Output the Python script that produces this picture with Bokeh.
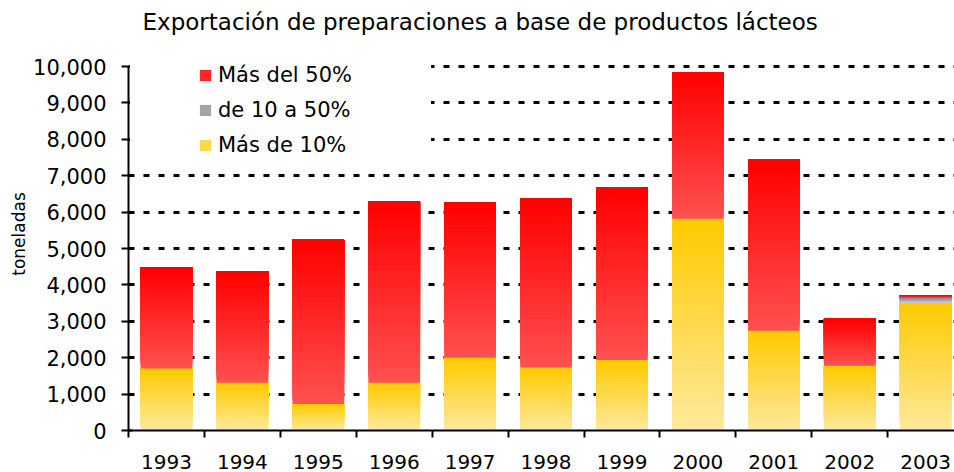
from bokeh.plotting import figure
from bokeh.models import (ColumnDataSource, FixedTicker, NumeralTickFormatter,
                          Legend, LegendItem, Range1d)
from bokeh.embed import file_html
from bokeh.resources import INLINE

# ---------------- data (toneladas) ----------------
years = ["1993", "1994", "1995", "1996", "1997", "1998",
         "1999", "2000", "2001", "2002", "2003"]
mas_de_10 = [1700, 1310, 730, 1310, 2000, 1730, 1940, 5820, 2740, 1775, 3510]
de_10_a_50 = [0, 0, 0, 0, 0, 0, 0, 0, 0, 20, 160]
mas_del_50 = [2780, 3060, 4510, 4990, 4260, 4640, 4730, 4010, 4700, 1275, 30]
y_ticks = [0, 1000, 2000, 3000, 4000, 5000, 6000, 7000, 8000, 9000, 10000]
series_names = ["Más del 50%", "de 10 a 50%", "Más de 10%"]

# ---------------- style ----------------
FONT = "DejaVu Sans"
RED = ("#FF0000", "#FF5050")      # top, bottom
GREY = ("#7A7A7A", "#CFCFCF")
YELLOW = ("#FFCA00", "#FFE99C")
N_SLICES = 48
BAR_W = 0.68


def _hex(c):
    c = c.lstrip("#")
    return [int(c[i:i + 2], 16) for i in (0, 2, 4)]


def lerp(c_bottom, c_top, t):
    a, b = _hex(c_bottom), _hex(c_top)
    return "#%02X%02X%02X" % tuple(round(a[k] + (b[k] - a[k]) * t) for k in range(3))


def gradient_source(xs, bottoms, heights, colors):
    """Split each stacked segment into stacked slices to fake a vertical gradient."""
    top_c, bot_c = colors
    out = {"x": [], "bottom": [], "top": [], "color": []}
    for x, b, h in zip(xs, bottoms, heights):
        if h <= 0:
            continue
        for i in range(N_SLICES):
            out["x"].append(x)
            out["bottom"].append(b + h * i / N_SLICES)
            out["top"].append(b + h)
            out["color"].append(lerp(bot_c, top_c, i / (N_SLICES - 1)))
    return ColumnDataSource(out)


xs = list(range(len(years)))
b_grey = list(mas_de_10)
b_red = [a + g for a, g in zip(mas_de_10, de_10_a_50)]

p = figure(width=954, height=472, output_backend="svg", toolbar_location=None,
           x_range=Range1d(-0.5, 10.38), y_range=Range1d(0, 10797),
           min_border_left=128, min_border_right=0, min_border_top=37,
           min_border_bottom=42)
p.outline_line_color = None
p.background_fill_color = "white"
p.border_fill_color = "white"

r_yel = p.vbar(x="x", bottom="bottom", top="top", width=BAR_W, fill_color="color",
               line_color=None, source=gradient_source(xs, [0] * len(xs), mas_de_10, YELLOW))
r_grey = p.vbar(x="x", bottom="bottom", top="top", width=BAR_W, fill_color="color",
                line_color=None, source=gradient_source(xs, b_grey, de_10_a_50, GREY))
r_red = p.vbar(x="x", bottom="bottom", top="top", width=BAR_W, fill_color="color",
               line_color=None, source=gradient_source(xs, b_red, mas_del_50, RED))
blank = p.vbar(x=[], top=[], width=BAR_W, fill_alpha=0, line_alpha=0)

# title
p.title.text = "Exportación de preparaciones a base de productos lácteos"
p.title.text_font = FONT
p.title.text_font_size = "23px"
p.title.text_font_style = "normal"
p.title.text_color = "black"
p.title.align = "left"
p.title.offset = 14
p.title.standoff = 6

# y axis
ya = p.yaxis[0]
ya.ticker = FixedTicker(ticks=y_ticks)
ya.bounds = (0, 10000)
ya.formatter = NumeralTickFormatter(format="0,0")
ya.axis_label = "toneladas"
ya.axis_label_text_font = FONT
ya.axis_label_text_font_size = "17px"
ya.axis_label_text_font_style = "normal"
ya.axis_label_text_color = "black"
ya.axis_label_standoff = 1
ya.major_label_text_font = FONT
ya.major_label_text_font_size = "21px"
ya.major_label_text_color = "black"
ya.major_label_standoff = 15
ya.axis_line_width = 2
ya.axis_line_color = "black"
ya.major_tick_line_width = 2
ya.major_tick_line_color = "black"
ya.major_tick_out = 7
ya.major_tick_in = 4
ya.minor_tick_line_color = None

# x axis: labels at centres, ticks between categories
xa = p.xaxis[0]
xa.ticker = FixedTicker(ticks=xs, minor_ticks=[i - 0.5 for i in range(len(years) + 1)])
xa.major_label_overrides = {i: y for i, y in enumerate(years)}
xa.major_label_text_font = FONT
xa.major_label_text_font_size = "20px"
xa.major_label_text_color = "black"
xa.major_label_standoff = 17
xa.major_tick_out = 0
xa.major_tick_in = 0
xa.major_tick_line_color = None
xa.minor_tick_out = 7
xa.minor_tick_in = 0
xa.minor_tick_line_width = 2
xa.minor_tick_line_color = "black"
xa.axis_line_width = 2
xa.axis_line_color = "black"

# grid
p.xgrid.grid_line_color = None
p.ygrid.ticker = FixedTicker(ticks=y_ticks)
p.ygrid.grid_line_color = "black"
p.ygrid.grid_line_width = 3
p.ygrid.grid_line_dash = "6 9"

# white box behind the legend (hides the grid as in the reference)
bg = Legend(items=[LegendItem(label=" ", renderers=[blank])],
            location=(2, 268), padding=0, margin=0, spacing=0,
            glyph_width=1, glyph_height=98, label_width=300, label_height=98,
            label_standoff=0, label_text_font_size="2px",
            border_line_color=None, background_fill_color="white",
            background_fill_alpha=1)
p.add_layout(bg, "center")

mid = N_SLICES // 2
legend = Legend(items=[LegendItem(label=series_names[0], renderers=[r_red], index=mid),
                       LegendItem(label=series_names[1], renderers=[r_grey], index=mid),
                       LegendItem(label=series_names[2], renderers=[r_yel], index=mid)],
                location=(70, 273), padding=0, margin=0, spacing=11,
                glyph_width=14, glyph_height=14, label_standoff=6,
                label_text_font=FONT, label_text_font_size="21px",
                label_text_color="black", border_line_color=None,
                background_fill_alpha=0)
p.add_layout(legend, "center")

open("out.html", "w").write(file_html(p, INLINE))
